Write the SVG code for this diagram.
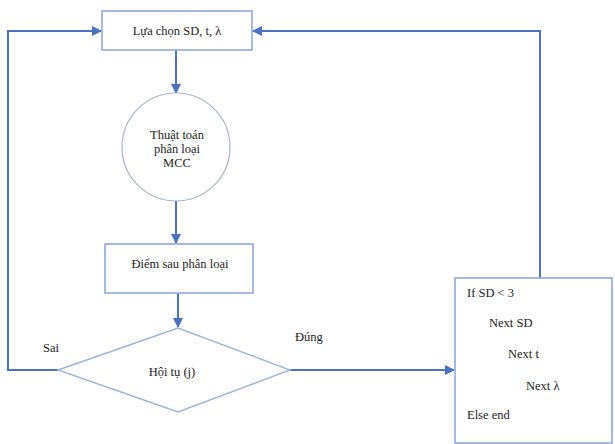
<svg xmlns="http://www.w3.org/2000/svg" width="615" height="444" viewBox="0 0 615 444">
<defs>
<marker id="ah" viewBox="0 0 10 10" refX="9" refY="5" markerWidth="5" markerHeight="5" orient="auto" markerUnits="strokeWidth">
<path d="M0,0 L10,5 L0,10 z" fill="#4a72c0"/>
</marker>
<style>
.box{fill:#fff;stroke:#8faadc;stroke-width:1.6}
.el{fill:#fff;stroke:#a6b4cf;stroke-width:1.2}
.dm{fill:#fff;stroke:#9db4dc;stroke-width:1.4}
.c{fill:none;stroke:#4a72c0;stroke-width:2}
.t{font-size:12.5px;fill:#222}
.m{text-anchor:middle}
</style>
</defs>
<rect width="615" height="444" fill="#fff"/>
<g id="connectors">
<path class="c" d="M176,50 V93" marker-end="url(#ah)"/>
<path class="c" d="M176,201 V243" marker-end="url(#ah)"/>
<path class="c" d="M178,293 V327" marker-end="url(#ah)"/>
<path class="c" d="M58,370 H8 V31 H101" marker-end="url(#ah)"/>
<path class="c" d="M290,370 H454" marker-end="url(#ah)"/>
<path class="c" d="M540,278 V31 H253" marker-end="url(#ah)"/>
</g>
<g font-family="'Liberation Serif', 'DejaVu Serif', serif">
<g id="n1">
<rect class="box" x="102" y="11" width="150" height="39"/>
<text class="t m" x="177" y="35">Lựa chọn SD, t, λ</text>
</g>
<g id="n2">
<ellipse class="el" cx="176" cy="147" rx="54" ry="54"/>
<text class="t m" x="177" y="139">Thuật toán</text>
<text class="t m" x="177" y="153">phân loại</text>
<text class="t m" x="177" y="167">MCC</text>
</g>
<g id="n3">
<rect class="box" x="105" y="244" width="148" height="49"/>
<text class="t m" x="180" y="268">Điểm sau phân loại</text>
</g>
<g id="n4">
<polygon class="dm" points="58,370 178,328 290,370 178,412"/>
<text class="t m" x="172" y="376">Hội tụ (j)</text>
</g>
<g id="n5">
<rect class="box" x="455" y="278" width="157" height="165"/>
<text class="t" x="467" y="297">If SD &lt; 3</text>
<text class="t" x="489" y="327">Next SD</text>
<text class="t" x="508" y="358">Next t</text>
<text class="t" x="526" y="390">Next λ</text>
<text class="t" x="467" y="419">Else end</text>
</g>
<g id="labels">
<text class="t" x="43" y="352">Sai</text>
<text class="t" x="295" y="341">Đúng</text>
</g>
</g>
</svg>
